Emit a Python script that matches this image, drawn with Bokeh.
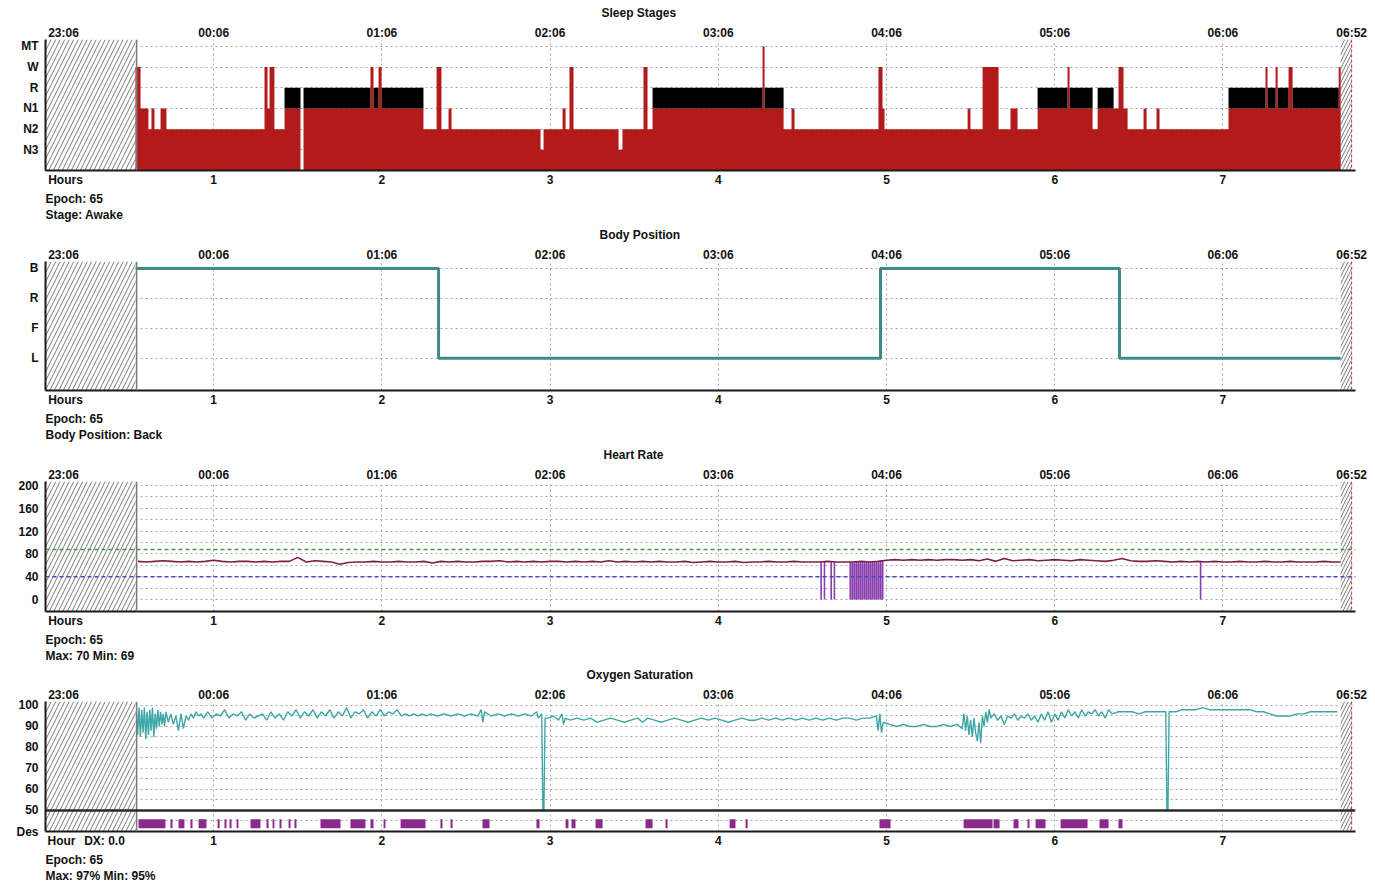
import numpy as np
from bokeh.plotting import figure
from bokeh.layouts import column
from bokeh.models import FixedTicker, Span, Range1d, Title, LinearAxis
from bokeh.embed import file_html
from bokeh.resources import INLINE

# ---------------- data ----------------
hour_ticks = [1, 2, 3, 4, 5, 6, 7]
clock_pos = [0.107, 1, 2, 3, 4, 5, 6, 7, 7.765]
clock_labels = ["23:06", "00:06", "01:06", "02:06", "03:06", "04:06", "05:06", "06:06", "06:52"]
clock_end_hour = 7.765
record_start = 0.535
record_end = 7.700
cursor_hour = 0.5417  # epoch 65

panel_titles = ["Sleep Stages", "Body Position", "Heart Rate", "Oxygen Saturation"]
title_offsets = [556, 554, 558, 541]
axis_row = [[(0.119, "Hours")], [(0.119, "Hours")], [(0.119, "Hours")],
            [(0.095, "Hour"), (0.351, "DX: 0.0")]]
panel_info = [["Epoch: 65", "Stage: Awake"],
              ["Epoch: 65", "Body Position: Back"],
              ["Epoch: 65", "Max: 70 Min: 69"],
              ["Epoch: 65", "Max: 97% Min: 95%"]]

stage_levels = {"-": 0, "N3": 1, "N2": 2, "N1": 3, "R": 4, "W": 5, "MT": 6}
stage_start = [0.535, 0.565, 0.612, 0.630, 0.648, 0.684, 0.719, 1.302, 1.320, 1.332,
               1.361, 1.421, 1.516, 1.534, 1.932, 1.950, 1.980, 1.998, 2.247, 2.325,
               2.354, 2.396, 2.414, 2.943, 2.961, 3.074, 3.092, 3.115, 3.139, 3.407,
               3.430, 3.555, 3.579, 3.609, 4.263, 4.275, 4.388, 4.435, 4.453, 4.952,
               4.976, 4.988, 5.482, 5.499, 5.571, 5.666, 5.737, 5.779, 5.898, 6.076,
               6.088, 6.225, 6.255, 6.350, 6.379, 6.409, 6.433, 6.528, 6.546, 6.605,
               6.623, 7.033, 7.253, 7.265, 7.313, 7.325, 7.390, 7.414, 7.688]
stage_name = ["W", "N1", "N2", "N1", "N2", "N1", "N2", "W", "N1", "W",
              "N2", "R", "-", "R", "W", "R", "W", "R", "N2", "W",
              "N2", "N1", "N2", "N3", "N2", "N1", "N2", "W", "N2", "N3",
              "N2", "W", "N2", "R", "MT", "R", "N2", "N1", "N2", "W",
              "N1", "N2", "N1", "N2", "W", "N2", "N1", "N2", "R", "W",
              "R", "N2", "R", "N1", "W", "N1", "N2", "N1", "N2", "N1",
              "N2", "R", "W", "R", "W", "R", "W", "R", "W"]

pos_levels = {"L": 1, "F": 2, "R": 3, "B": 4}
pos_start = [0.535, 2.337, 4.964, 6.385]
pos_name = ["B", "L", "B", "L"]

hr_start = 0.55
hr_step = 0.05
hr_values = [67, 66, 67, 68, 67, 66, 67, 66, 67, 69,
             67, 66, 67, 67, 66, 67, 66, 67, 67, 74,
             66, 68, 67, 66, 62, 65, 66, 66, 67, 66,
             66, 67, 66, 66, 67, 64, 67, 66, 67, 66,
             66, 67, 67, 68, 66, 67, 66, 67, 66, 67,
             67, 66, 67, 66, 67, 66, 68, 66, 67, 66,
             67, 66, 67, 66, 66, 67, 65, 66, 67, 66,
             66, 67, 65, 66, 66, 67, 66, 66, 67, 66,
             66, 66, 67, 66, 66, 66, 67, 66, 67, 69,
             70, 69, 70, 69, 70, 69, 70, 70, 69, 70,
             68, 71, 67, 72, 68, 69, 70, 68, 69, 70,
             69, 68, 70, 69, 68, 67, 69, 72, 68, 67,
             67, 68, 67, 66, 67, 66, 67, 66, 67, 66,
             66, 67, 66, 66, 67, 66, 66, 67, 66, 66,
             66, 67, 66, 66]
hr_drop_hours = [4.611, 4.631, 4.671, 4.690, 4.785, 4.797, 4.809, 4.821, 4.833, 4.845,
                 4.857, 4.869, 4.881, 4.893, 4.905, 4.917, 4.929, 4.941, 4.953, 4.965,
                 4.977, 6.867]
hr_block = [4.78, 4.98]
hr_upper = 88
hr_lower = 40

spo2_t = [0.540, 0.548, 0.556, 0.564, 0.572, 0.580, 0.588, 0.596, 0.604, 0.612,
          0.620, 0.628, 0.636, 0.644, 0.652, 0.660, 0.668, 0.676, 0.684, 0.692,
          0.700, 0.708, 0.716, 0.730, 0.745, 0.760, 0.775, 0.790, 0.805, 0.820,
          0.835, 0.850, 0.865, 0.880, 0.895, 0.910, 0.925, 0.940, 0.965, 0.990,
          1.015, 1.040, 1.065, 1.090, 1.115, 1.140, 1.165, 1.190, 1.215, 1.240,
          1.265, 1.290, 1.315, 1.340, 1.365, 1.390, 1.415, 1.440, 1.465, 1.490,
          1.515, 1.540, 1.565, 1.590, 1.615, 1.640, 1.665, 1.690, 1.715, 1.740,
          1.765, 1.790, 1.815, 1.840, 1.865, 1.890, 1.915, 1.940, 1.965, 1.990,
          2.015, 2.040, 2.065, 2.090, 2.115, 2.140, 2.165, 2.190, 2.215, 2.240,
          2.265, 2.290, 2.330, 2.370, 2.410, 2.450, 2.490, 2.530, 2.570, 2.590,
          2.600, 2.610, 2.650, 2.690, 2.730, 2.770, 2.810, 2.850, 2.890, 2.920,
          2.930, 2.950, 2.957, 2.963, 2.970, 2.990, 3.020, 3.050, 3.070, 3.080,
          3.090, 3.120, 3.160, 3.200, 3.240, 3.280, 3.320, 3.360, 3.400, 3.440,
          3.480, 3.520, 3.550, 3.580, 3.620, 3.660, 3.700, 3.740, 3.780, 3.820,
          3.860, 3.900, 3.940, 3.980, 4.020, 4.060, 4.100, 4.140, 4.180, 4.220,
          4.260, 4.300, 4.340, 4.380, 4.420, 4.460, 4.500, 4.540, 4.580, 4.620,
          4.660, 4.700, 4.740, 4.780, 4.820, 4.860, 4.900, 4.940, 4.950, 4.960,
          4.970, 4.980, 5.020, 5.060, 5.100, 5.140, 5.180, 5.220, 5.260, 5.300,
          5.340, 5.380, 5.420, 5.450, 5.460, 5.470, 5.480, 5.490, 5.500, 5.510,
          5.520, 5.530, 5.540, 5.550, 5.560, 5.570, 5.580, 5.590, 5.600, 5.610,
          5.620, 5.640, 5.660, 5.680, 5.700, 5.720, 5.740, 5.760, 5.780, 5.800,
          5.820, 5.840, 5.860, 5.880, 5.900, 5.920, 5.940, 5.960, 5.980, 6.000,
          6.020, 6.040, 6.060, 6.080, 6.100, 6.120, 6.140, 6.160, 6.180, 6.200,
          6.220, 6.240, 6.260, 6.280, 6.300, 6.320, 6.340, 6.380, 6.420, 6.460,
          6.500, 6.540, 6.580, 6.620, 6.660, 6.667, 6.673, 6.680, 6.720, 6.760,
          6.800, 6.840, 6.880, 6.920, 6.960, 7.000, 7.040, 7.080, 7.120, 7.160,
          7.200, 7.240, 7.280, 7.320, 7.360, 7.400, 7.440, 7.480, 7.520, 7.560,
          7.600, 7.640, 7.680]
spo2_v = [97, 86, 99, 85, 98, 87, 99, 84, 97, 86,
          98, 88, 99, 85, 96, 89, 98, 90, 97, 91,
          96, 90, 97, 92, 96, 91, 95, 88, 96, 89,
          95, 93, 96, 94, 97, 95, 96, 94, 97, 94,
          96, 95, 98, 94, 96, 95, 97, 93, 96, 94,
          95, 96, 93, 97, 94, 96, 93, 97, 95, 98,
          94, 97, 95, 98, 94, 97, 95, 98, 94, 97,
          95, 99, 94, 97, 96, 98, 94, 97, 95, 98,
          95, 97, 96, 98, 95, 96, 95, 96, 95, 96,
          95, 96, 95, 96, 95, 96, 95, 96, 95, 98,
          92, 97, 95, 96, 95, 96, 95, 96, 95, 97,
          94, 96, 50, 50, 94, 94, 95, 93, 96, 91,
          94, 93, 94, 93, 94, 92, 93, 94, 93, 92,
          93, 94, 92, 94, 93, 92, 93, 94, 93, 92,
          93, 94, 93, 94, 93, 92, 93, 94, 93, 93,
          94, 93, 94, 93, 94, 93, 94, 93, 94, 93,
          94, 93, 94, 94, 93, 94, 94, 95, 88, 96,
          87, 92, 91, 90, 91, 90, 90, 91, 90, 90,
          91, 90, 91, 89, 96, 88, 95, 86, 93, 85,
          94, 87, 83, 92, 82, 95, 90, 97, 92, 98,
          94, 96, 93, 95, 91, 95, 94, 96, 93, 95,
          94, 96, 93, 95, 92, 96, 93, 97, 92, 96,
          93, 97, 94, 98, 95, 97, 94, 98, 95, 97,
          96, 98, 95, 97, 94, 98, 96, 97, 97, 97,
          96, 97, 97, 97, 97, 50, 50, 97, 97, 98,
          98, 98, 99, 98, 98, 98, 98, 98, 98, 98,
          97, 97, 96, 95, 95, 95, 96, 96, 97, 97,
          97, 97, 97]

des_start = [0.553, 0.743, 0.791, 0.862, 0.910, 1.023, 1.064, 1.094, 1.136, 1.219,
             1.314, 1.350, 1.391, 1.445, 1.480, 1.635, 1.813, 1.932, 2.010, 2.111,
             2.348, 2.408, 2.598, 2.919, 3.092, 3.127, 3.270, 3.567, 3.686, 4.067,
             4.162, 4.958, 5.458, 5.636, 5.755, 5.838, 5.886, 6.035, 6.266, 6.379]
des_end = [0.713, 0.755, 0.826, 0.874, 0.957, 1.035, 1.076, 1.106, 1.147, 1.278,
           1.326, 1.361, 1.403, 1.457, 1.492, 1.754, 1.902, 1.950, 2.021, 2.259,
           2.360, 2.420, 2.640, 2.937, 3.109, 3.151, 3.312, 3.609, 3.698, 4.102,
           4.174, 5.024, 5.630, 5.672, 5.785, 5.850, 5.945, 6.195, 6.320, 6.403]
des_band = [41.5, 45.8]

# ---------------- styling ----------------
W = 1375
LEFT, RIGHT = 45, 20
X0, X1 = 0.0, 7.788
FONT = "Liberation Sans"
FS = "12px"
RED = "#B31B1B"
TEAL = "#3E8A8A"
GRID = "#A8A8A8"
INK = "#111111"


def style_axis(ax, standoff):
    ax.major_tick_line_color = None
    ax.minor_tick_line_color = None
    ax.major_tick_out = 0
    ax.major_tick_in = 0
    ax.minor_tick_out = 0
    ax.minor_tick_in = 0
    ax.major_label_text_font = FONT
    ax.major_label_text_font_size = FS
    ax.major_label_text_font_style = "bold"
    ax.major_label_text_color = INK
    ax.major_label_standoff = standoff


def make_title(text, align="left", offset=0, standoff=0):
    return Title(text=text, align=align, offset=offset, standoff=standoff,
                 text_font=FONT, text_font_size=FS, text_font_style="bold",
                 text_color=INK)


def make_panel(idx, height, spec, yticks, overrides, grid_ticks):
    top, bottom, y0, y1 = spec
    p = figure(width=W, height=height, x_range=Range1d(X0, X1), y_range=Range1d(y0, y1),
               output_backend="svg", toolbar_location=None,
               min_border_left=LEFT, min_border_right=RIGHT,
               min_border_top=top, min_border_bottom=height - bottom)
    p.outline_line_color = None
    p.background_fill_color = "white"
    p.border_fill_color = "white"
    # bottom hour axis (with the "Hours" caption as its first label)
    xa = p.xaxis[0]
    row = axis_row[idx]
    xa.ticker = FixedTicker(ticks=[r[0] for r in row] + hour_ticks)
    xa.major_label_overrides = {r[0]: r[1] for r in row}
    xa.axis_line_width = 2
    xa.axis_line_color = "#1a1a1a"
    style_axis(xa, 2)
    # left axis
    ya = p.yaxis[0]
    ya.ticker = FixedTicker(ticks=yticks)
    ya.major_label_overrides = overrides
    ya.axis_line_width = 2
    ya.axis_line_color = "#1a1a1a"
    style_axis(ya, 7)
    # top clock-time axis
    ta = LinearAxis(ticker=FixedTicker(ticks=clock_pos),
                    major_label_overrides=dict(zip(clock_pos, clock_labels)),
                    axis_line_color=None)
    style_axis(ta, 0)
    p.add_layout(ta, "above")
    p.add_layout(make_title(panel_titles[idx], "left", title_offsets[idx], 6), "above")
    for line in panel_info[idx]:
        p.add_layout(make_title(line), "below")
    # grids
    p.xgrid.ticker = FixedTicker(ticks=hour_ticks)
    p.ygrid.ticker = FixedTicker(ticks=grid_ticks)
    for g in (p.xgrid, p.ygrid):
        g.grid_line_color = GRID
        g.grid_line_dash = "2 3"
        g.grid_line_width = 1
    # hatched (not recorded) areas
    p.quad(left=X0, right=record_start, bottom=y0, top=y1, fill_color="white",
           hatch_pattern="/", hatch_color="#777777", hatch_scale=9, hatch_weight=1,
           line_color=None)
    p.quad(left=record_end, right=clock_end_hour, bottom=y0, top=y1, fill_color="white",
           hatch_pattern="/", hatch_color="#777777", hatch_scale=7, hatch_weight=1,
           line_color=None)
    p.add_layout(Span(location=clock_end_hour, dimension="height", line_color="#D03030",
                      line_dash="3 2", line_width=1))
    p.add_layout(Span(location=cursor_hour, dimension="height", line_color="#7a7a7a",
                      line_width=1.5))
    return p


# ---------- panel 1: sleep stages ----------
spec1 = (37, 170, 0.0, 6.333)
lv_ticks = [1, 2, 3, 4, 5, 6]
lv_over = {v: k for k, v in stage_levels.items() if v > 0}
p1 = make_panel(0, 222, spec1, lv_ticks, lv_over, lv_ticks)
lvl = [stage_levels[s] for s in stage_name]
n1_lvl = stage_levels["N1"]
rem_lvl = stage_levels["R"]
red_top = [n1_lvl if s == "R" else l for s, l in zip(stage_name, lvl)]
sx = stage_start + [record_end]
p1.varea_step(x=sx, y1=[0] * len(sx), y2=red_top + [red_top[-1]], step_mode="after",
              fill_color=RED)
blk_lo = [n1_lvl if s == "R" else 0 for s in stage_name]
blk_hi = [rem_lvl if s == "R" else 0 for s in stage_name]
p1.varea_step(x=sx, y1=blk_lo + [blk_lo[-1]], y2=blk_hi + [blk_hi[-1]], step_mode="after",
              fill_color="black")

# ---------- panel 2: body position ----------
spec2 = (36, 168, -0.08, 4.23)
p_ticks = [1, 2, 3, 4]
p_over = {v: k for k, v in pos_levels.items()}
p2 = make_panel(1, 220, spec2, p_ticks, p_over, p_ticks)
px = pos_start + [record_end]
py = [pos_levels[n] for n in pos_name]
py = py + [py[-1]]
p2.step(px, py, mode="after", line_color=TEAL, line_width=3)

# ---------- panel 3: heart rate ----------
spec3 = (38, 169, -20.87, 206.96)
p3 = make_panel(2, 220, spec3, [0, 40, 80, 120, 160, 200], {},
                [0, 20, 40, 60, 80, 100, 120, 140, 160, 180, 200])
p3.add_layout(Span(location=hr_upper, dimension="width", line_color="#3E9A4A",
                   line_dash="4 3", line_width=1.5))
p3.add_layout(Span(location=hr_lower, dimension="width", line_color="#4A4AB8",
                   line_dash="4 3", line_width=1.5))
hr_t = [hr_start + i * hr_step for i in range(len(hr_values))]
p3.quad(left=hr_block[0], right=hr_block[1], bottom=0,
        top=float(np.interp(hr_block[0], hr_t, hr_values)) - 3,
        fill_color="#B98AD0", fill_alpha=0.8, line_color=None)
drop_top = np.interp(hr_drop_hours, hr_t, hr_values)
p3.segment(x0=hr_drop_hours, y0=0, x1=hr_drop_hours, y1=drop_top,
           line_color="#8A3FAF", line_width=1.6)
p3.line(hr_t, hr_values, line_color="#7A2048", line_width=1.6)

# ---------- panel 4: oxygen saturation ----------
spec4 = (38, 169, 40.0, 101.9)
p4 = make_panel(3, 225, spec4, [40, 50, 60, 70, 80, 90, 100], {40: "Des"},
                [45, 55, 60, 65, 70, 75, 80, 85, 90, 95, 100])
p4.add_layout(Span(location=50, dimension="width", line_color="#2a2a2a", line_width=2.5))
p4.quad(left=des_start, right=des_end, bottom=des_band[0], top=des_band[1],
        fill_color="#8B2A8B", line_color=None)
p4.line(spo2_t, spo2_v, line_color="#3FA6A8", line_width=1.4)

layout = column(p1, p2, p3, p4, spacing=0)
open("out.html", "w").write(file_html(layout, INLINE))
